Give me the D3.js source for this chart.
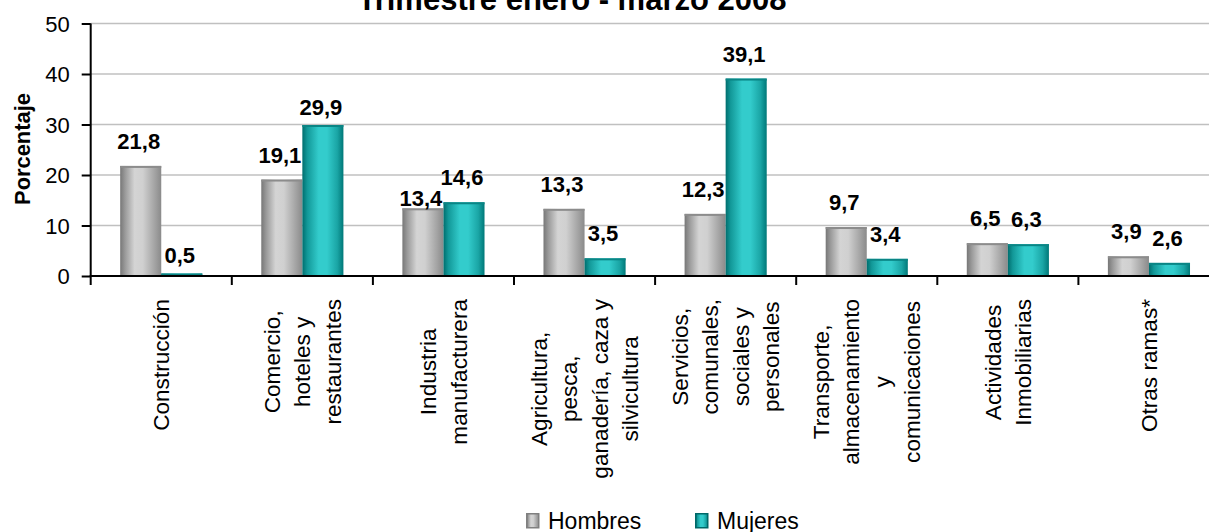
<!DOCTYPE html>
<html><head><meta charset="utf-8">
<script src="https://cdn.jsdelivr.net/npm/d3@7"></script>
<style>
html,body{margin:0;padding:0;background:#fff;}
svg{display:block;font-family:"Liberation Sans",Arial,sans-serif;}
</style></head>
<body>
<svg id="chart" width="1209" height="532"></svg>
<script>
// ---- data ----
const categories = [
  "Construcción",
  "Comercio, hoteles y restaurantes",
  "Industria manufacturera",
  "Agricultura, pesca, ganadería, caza y silvicultura",
  "Servicios, comunales, sociales y personales",
  "Transporte, almacenamiento y comunicaciones",
  "Actividades Inmobiliarias",
  "Otras ramas*"
];
const categoryLines = [
  ["Construcción"],
  ["Comercio,", "hoteles y", "restaurantes"],
  ["Industria", "manufacturera"],
  ["Agricultura,", "pesca,", "ganadería, caza y", "silvicultura"],
  ["Servicios,", "comunales,", "sociales y", "personales"],
  ["Transporte,", "almacenamiento", "y", "comunicaciones"],
  ["Actividades", "Inmobiliarias"],
  ["Otras ramas*"]
];
const seriesNames = ["Hombres", "Mujeres"];
const hombres = [21.8, 19.1, 13.4, 13.3, 12.3, 9.7, 6.5, 3.9];
const mujeres = [0.5, 29.9, 14.6, 3.5, 39.1, 3.4, 6.3, 2.6];
const yTicks = [0, 10, 20, 30, 40, 50];
const titleText = "Trimestre enero - marzo 2008";
const yTitle = "Porcentaje";

// ---- layout (not data) ----
const plotLeft = 90.7, step = 141.1, plotBottom = 276, plotTop = 23.5;
const labelLift = 17;
const labelLiftOverride = {"0-1": 10.5, "1-1": 10, "2-0": 2};

const svg = d3.select("#chart");
const defs = svg.append("defs");
function grad(id, stops) {
  const g = defs.append("linearGradient").attr("id", id)
    .attr("x1", 0).attr("x2", 1).attr("y1", 0).attr("y2", 0);
  stops.forEach(s => g.append("stop").attr("offset", s[0]).attr("stop-color", s[1]));
}
grad("gGray", [[0, "#777777"], [0.12, "#9a9a9a"], [0.35, "#d4d4d4"], [0.55, "#d0d0d0"], [0.85, "#a2a2a2"], [1, "#8a8a8a"]]);
grad("gTeal", [[0, "#006e6e"], [0.12, "#129898"], [0.4, "#33cccc"], [0.6, "#33cccc"], [0.85, "#1aa5a5"], [1, "#007878"]]);
const fills = ["url(#gGray)", "url(#gTeal)"];
const capColors = ["#8c8c8c", "#0a8585"];

const data = categories.map((c, i) => ({i, vals: [hombres[i], mujeres[i]]}));

const x0 = d3.scaleBand().domain(d3.range(categories.length))
  .range([plotLeft, plotLeft + step * categories.length])
  .paddingInner(0.418).paddingOuter(0.209);
const x1 = d3.scaleBand().domain([0, 1]).range([0, x0.bandwidth()]);
const y = d3.scaleLinear().domain([0, 50]).range([plotBottom, plotTop]);

// gridlines
svg.append("g").selectAll("line").data(yTicks.filter(t => t > 0)).join("line")
  .attr("x1", plotLeft).attr("x2", 1209)
  .attr("y1", d => y(d)).attr("y2", d => y(d))
  .attr("stroke", "#c0c0c0").attr("stroke-width", 1.5);

// y axis
const yAxis = svg.append("g").attr("transform", `translate(${plotLeft},0)`)
  .call(d3.axisLeft(y).tickValues(yTicks).tickSize(9).tickPadding(12).tickFormat(d3.format("d")));
yAxis.select(".domain").attr("stroke", "#000").attr("stroke-width", 2).attr("d", `M0,${y(50)}V${y(0)}`);
yAxis.selectAll(".tick line").attr("stroke", "#000").attr("stroke-width", 2);
yAxis.selectAll(".tick text").attr("font-size", 22).attr("fill", "#000")
  .attr("font-family", "Liberation Sans, Arial, sans-serif").attr("dy", "0.36em");

// bars
const groups = svg.append("g").selectAll("g").data(data).join("g")
  .attr("transform", d => `translate(${x0(d.i)},0)`);
groups.selectAll("rect.bar").data(d => d.vals.map((v, s) => ({v, s, i: d.i}))).join("rect")
  .attr("class", "bar")
  .attr("x", d => x1(d.s)).attr("width", x1.bandwidth())
  .attr("y", d => y(d.v)).attr("height", d => y(0) - y(d.v))
  .attr("fill", d => fills[d.s]);
groups.selectAll("rect.cap").data(d => d.vals.map((v, s) => ({v, s}))).join("rect")
  .attr("class", "cap")
  .attr("x", d => x1(d.s)).attr("width", x1.bandwidth())
  .attr("y", d => y(d.v)).attr("height", d => Math.min(2, y(0) - y(d.v)))
  .attr("fill", d => capColors[d.s]);

// value labels
groups.selectAll("text.val").data(d => d.vals.map((v, s) => ({v, s, i: d.i}))).join("text")
  .attr("class", "val")
  .attr("x", d => x1(d.s) + x1.bandwidth() / 2 - 2)
  .attr("y", d => y(d.v) - (labelLiftOverride[d.i + "-" + d.s] ?? labelLift))
  .attr("text-anchor", "middle").attr("font-size", 22).attr("font-weight", "bold")
  .text(d => d3.format(".1f")(d.v).replace(".", ","));

// x axis
svg.append("line").attr("x1", plotLeft - 1).attr("x2", 1209).attr("y1", plotBottom).attr("y2", plotBottom)
  .attr("stroke", "#000").attr("stroke-width", 2);
svg.append("g").selectAll("line").data(d3.range(categories.length + 1)).join("line")
  .attr("x1", d => plotLeft + d * step).attr("x2", d => plotLeft + d * step)
  .attr("y1", plotBottom).attr("y2", plotBottom + 9)
  .attr("stroke", "#000").attr("stroke-width", 2);

// category labels
const lineH = 30.5, catFont = 22.6;
categoryLines.forEach((lines, i) => {
  const cx = x0(i) + x0.bandwidth() / 2;
  const g = svg.append("g");
  const n = lines.length;
  const texts = lines.map((t, k) => g.append("text")
    .attr("x", 0).attr("y", (k - (n - 1) / 2) * lineH + 0.35 * catFont)
    .attr("text-anchor", "middle").attr("font-size", catFont).text(t));
  const maxLen = d3.max(texts, t => t.node().getComputedTextLength());
  g.attr("transform", `translate(${cx},${299 + maxLen / 2}) rotate(-90)`);
});

// title
svg.append("text").attr("x", 572).attr("y", 10).attr("text-anchor", "middle")
  .attr("font-size", 31).attr("font-weight", "bold").text(titleText);

// y title
svg.append("text").attr("transform", "translate(29.5,149) rotate(-90)")
  .attr("text-anchor", "middle").attr("font-size", 21.9).attr("font-weight", "bold").text(yTitle);

// legend
const legendX = [526, 695];
const lg = svg.append("g").selectAll("g").data(seriesNames).join("g")
  .attr("transform", (d, i) => `translate(${legendX[i]},513)`);
lg.append("rect").attr("x", 0.75).attr("y", 0.75).attr("width", 12).attr("height", 14)
  .attr("fill", (d, i) => fills[i]).attr("stroke", (d, i) => i ? "#006868" : "#808080").attr("stroke-width", 1.5);
lg.append("text").attr("x", 22).attr("y", 15.5).attr("font-size", 23).text(d => d);
</script>
</body></html>
